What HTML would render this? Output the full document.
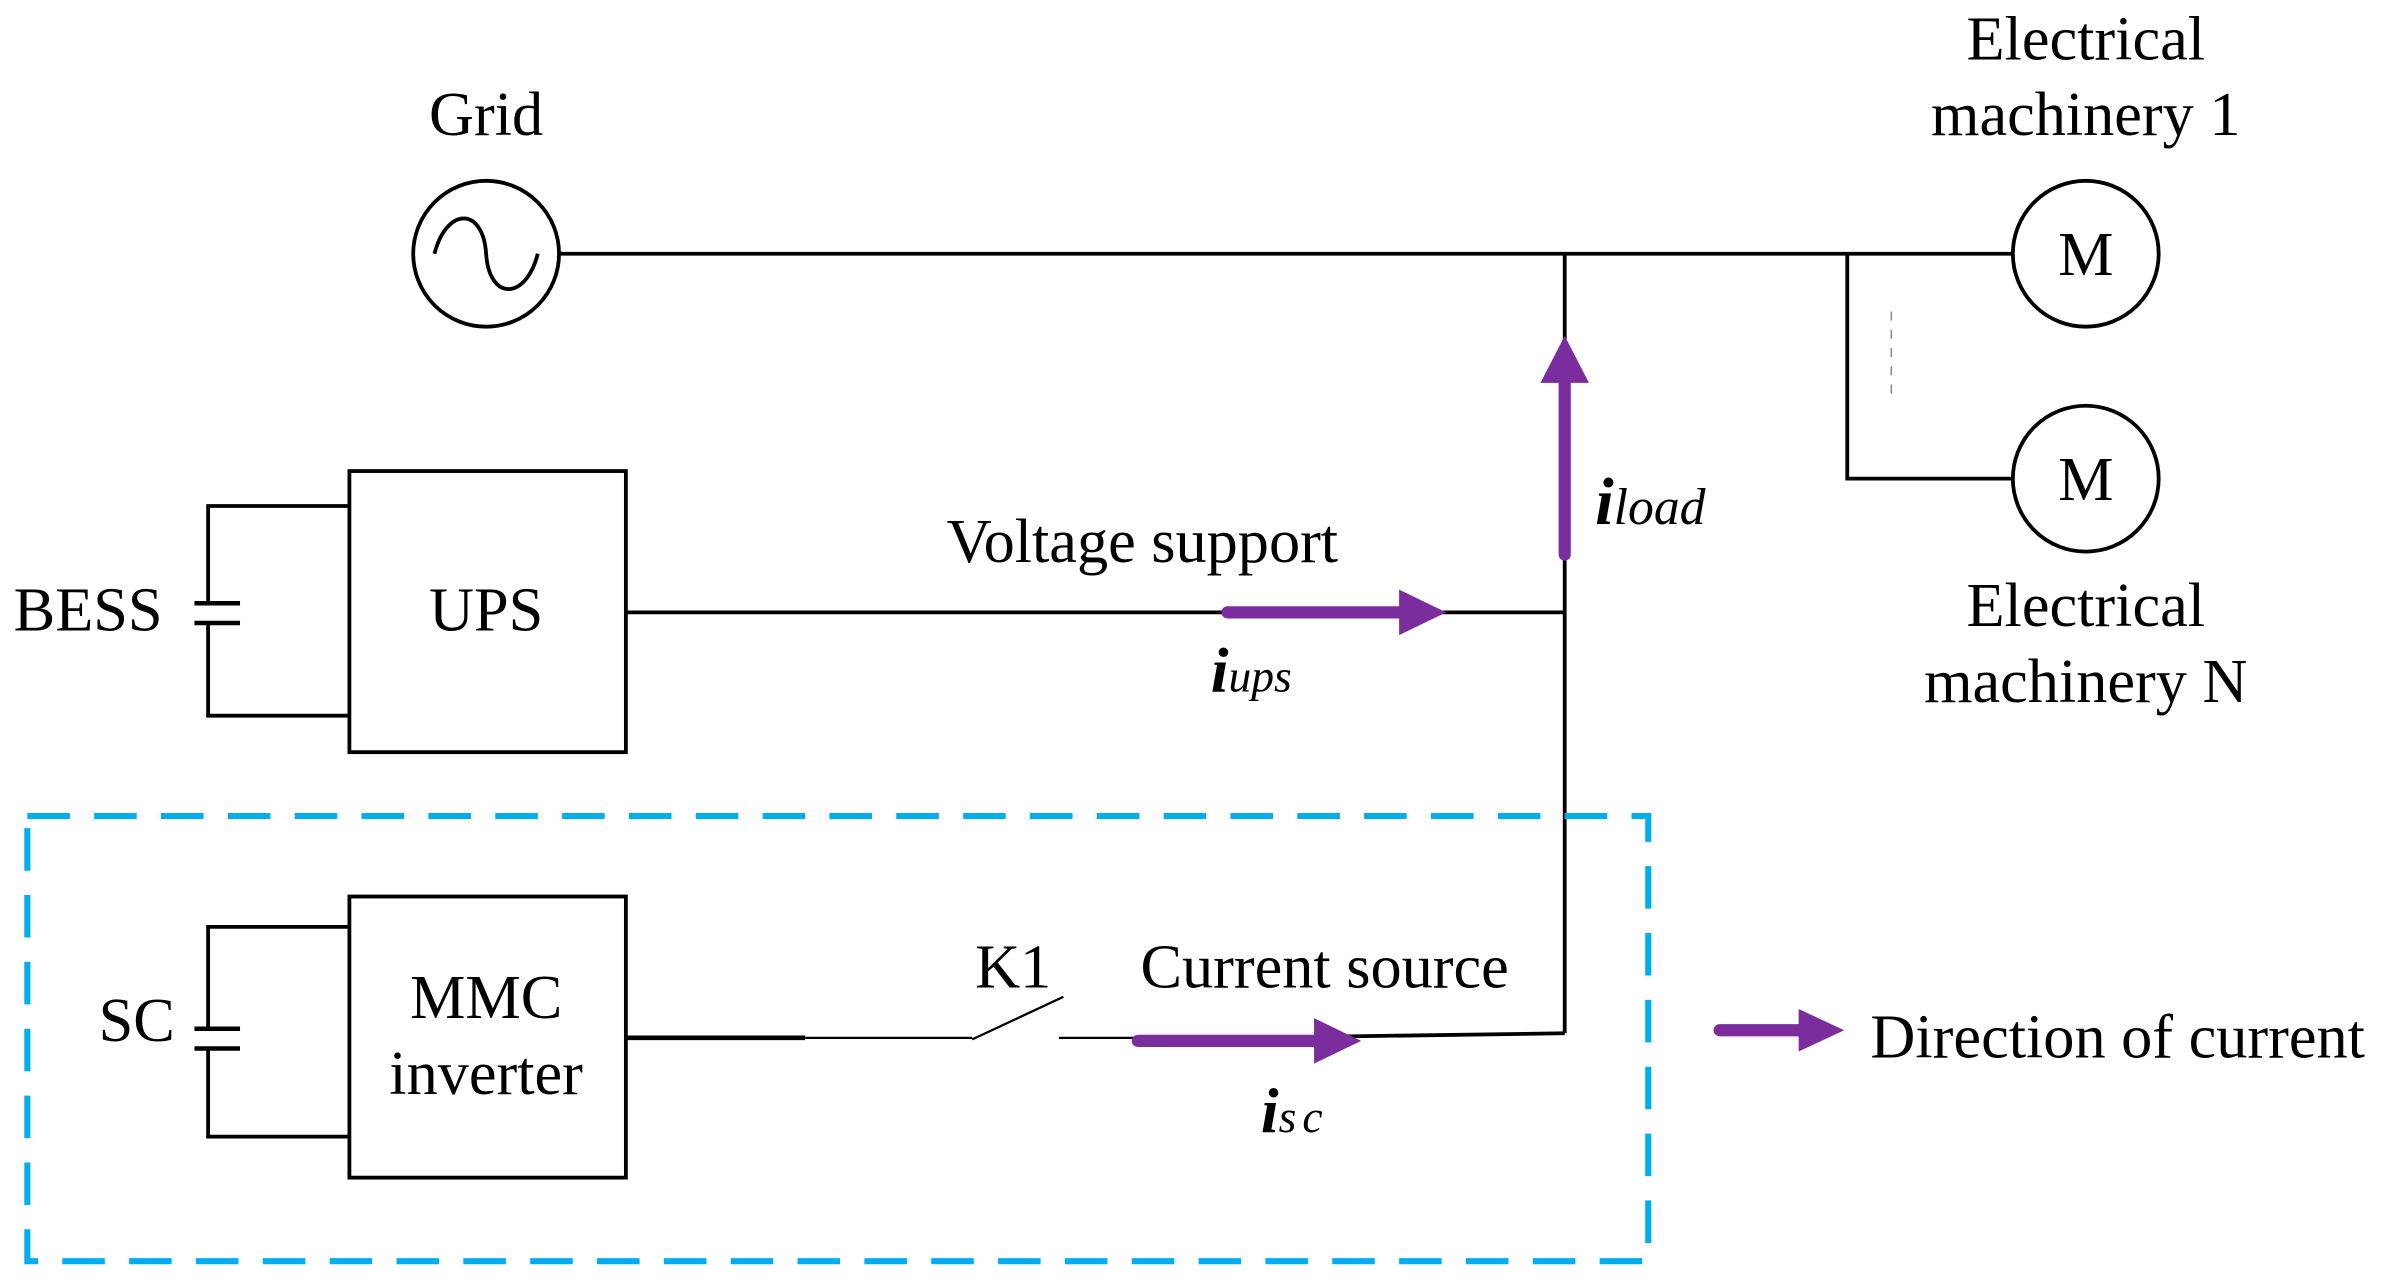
<!DOCTYPE html>
<html><head><style>html,body{margin:0;padding:0;background:#fff}svg{display:block}</style></head><body>
<svg width="2382" height="1284" viewBox="0 0 1568 845" preserveAspectRatio="none" xmlns="http://www.w3.org/2000/svg" font-family="'Liberation Serif',serif" font-size="41">
<g stroke="#000" stroke-width="2.5" fill="none">
<circle cx="320" cy="167" r="48"/>
<path d="M286 167 C294 136 318 136 320 167 C322 198 346 198 354 167"/>
<line x1="368" y1="167" x2="1325" y2="167"/>
<circle cx="1373" cy="167" r="48"/>
<circle cx="1373" cy="315" r="48"/>
<polyline points="1216,167 1216,315 1325,315"/>
<line x1="1030" y1="167" x2="1030" y2="680"/>
<rect x="230" y="310" width="182" height="185"/>
<line x1="412" y1="403" x2="1030" y2="403"/>
<polyline points="230,333 137,333 137,397"/><polyline points="137,410 137,471 230,471"/>
<line x1="128" y1="397" x2="158" y2="397" stroke-width="3"/><line x1="128" y1="410" x2="158" y2="410" stroke-width="3"/>
<rect x="230" y="590" width="182" height="185"/>
<polyline points="230,610 137,610 137,677"/><polyline points="137,690 137,748 230,748"/>
<line x1="128" y1="677" x2="158" y2="677" stroke-width="3"/><line x1="128" y1="690" x2="158" y2="690" stroke-width="3"/>
<line x1="412" y1="683" x2="530" y2="683" stroke-width="3"/>
<line x1="530" y1="683" x2="640" y2="683" stroke-width="1.5"/>
<line x1="640" y1="684" x2="700" y2="656" stroke-width="1.5"/>
<line x1="697" y1="683" x2="750" y2="683" stroke-width="1.5"/>
<line x1="750" y1="684" x2="1030" y2="680"/>
</g>
<line x1="1245" y1="205" x2="1245" y2="265" stroke="#888" stroke-width="1" stroke-dasharray="6 6"/>
<rect x="18" y="537" width="1067" height="293" fill="none" stroke="#00AEEF" stroke-width="4" stroke-dasharray="28 16"/>
<g fill="#7B2D9E" stroke="#7B2D9E">
<line x1="1030" y1="365" x2="1030" y2="250" stroke-width="8" stroke-linecap="round"/>
<polygon points="1030,221 1014,252 1046,252" stroke="none"/>
<line x1="808" y1="403" x2="922" y2="403" stroke-width="8" stroke-linecap="round"/>
<polygon points="952,403 921,388 921,418" stroke="none"/>
<line x1="749" y1="685" x2="866" y2="685" stroke-width="8" stroke-linecap="round"/>
<polygon points="896,685 865,670 865,700" stroke="none"/>
<line x1="1132" y1="678" x2="1186" y2="678" stroke-width="8" stroke-linecap="round"/>
<polygon points="1214,678 1184,664 1184,692" stroke="none"/>
</g>
<g text-anchor="middle" fill="#000">
<text x="320" y="89">Grid</text>
<text x="1373" y="39">Electrical</text><text x="1373" y="89">machinery 1</text>
<text x="1373" y="412">Electrical</text><text x="1373" y="462">machinery N</text>
<text x="1373" y="181">M</text><text x="1373" y="329">M</text>
<text x="320" y="415">UPS</text>
<text x="58" y="415">BESS</text>
<text x="752" y="370">Voltage support</text>
<text x="320" y="670">MMC</text><text x="320" y="720">inverter</text>
<text x="90" y="685">SC</text>
<text x="667" y="650">K1</text>
<text x="872" y="650">Current source</text>
<text x="1394" y="696">Direction of current</text>
</g>
<text x="1050" y="345" font-style="italic" font-weight="bold" font-size="44">i<tspan font-weight="normal" font-size="34">load</tspan></text>
<text x="797" y="455" font-style="italic" font-weight="bold" font-size="42">i<tspan font-weight="normal" font-size="30">ups</tspan></text>
<text x="830" y="745" font-style="italic" font-weight="bold" font-size="42">i<tspan font-weight="normal" font-size="30" letter-spacing="4">sc</tspan></text>
</svg>
</body></html>
